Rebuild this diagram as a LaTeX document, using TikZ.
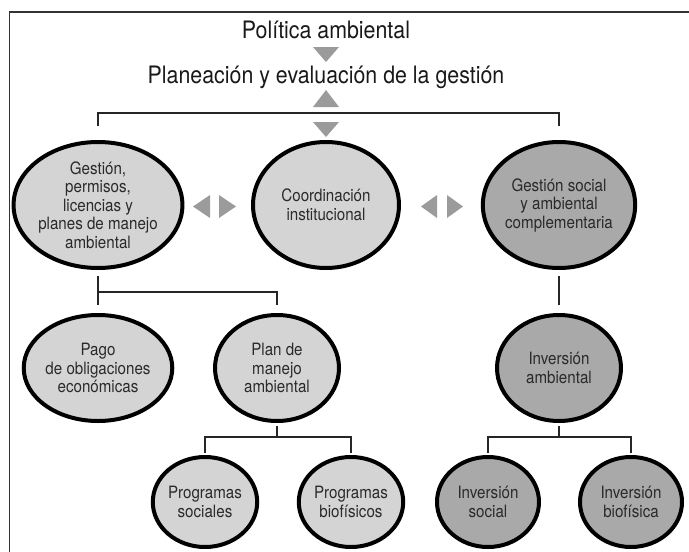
\documentclass[tikz,border=0pt]{standalone}
\usepackage{fontspec}
\setmainfont{TeX Gyre Heros}[FakeStretch=0.89]
\usetikzlibrary{shapes.geometric}
\definecolor{lightfill}{HTML}{D4D4D4}
\definecolor{darkfill}{HTML}{A9A9A9}
\definecolor{trigray}{HTML}{9B9B9B}
\definecolor{txtgray}{HTML}{2A2A2A}

\begin{document}
\begin{tikzpicture}[x=1pt,y=-1pt,
  bubble/.style={ellipse,draw=black,line width=4pt,inner sep=0pt,align=center,
    text=txtgray,font=\fontsize{17}{18.5}\selectfont},
  rowone/.style={bubble,minimum width=146pt,minimum height=126pt},
  rowtwo/.style={bubble,minimum width=124pt,minimum height=106pt},
  rowthree/.style={bubble,minimum width=102pt,minimum height=90pt},
  lightbub/.style={fill=lightfill},
  darkbub/.style={fill=darkfill},
  joint/.style={draw=black!85,line width=1.3pt},
  heading/.style={font=\fontsize{24}{28}\selectfont,text=black!90,anchor=base,inner sep=0pt}]
  \useasboundingbox (0,0) rectangle (689,552);
  %%%%%%%%%%%%%The frame%%%%%%%%%%%%%%%%%%%%%%
  \draw[line width=1.6pt,black!80] (9.5,552) -- (9.5,12) -- (689,12);

  %%%%%%%%%%%%%Top titles%%%%%%%%%%%%%%%%%%%%%%
  \node[heading] (pol) at (326,38) {Política ambiental};
  \node[heading] (plan) at (326,83) {Planeación y evaluación de la gestión};
  \fill[trigray] (313,47) -- (339,47) -- (326,62) -- cycle;
  \fill[trigray] (313,107) -- (339,107) -- (326,90) -- cycle;
  \fill[trigray] (313,122) -- (339,122) -- (326,137) -- cycle;

  %%%%%%%%%%%%%First row%%%%%%%%%%%%%%%%%%%%%%
  \node[rowone,lightbub] (gpl) at (98,205) {Gestión,\\permisos,\\licencias y\\planes de manejo\\ambiental};
  \node[rowone,lightbub] (coord) at (326,205) {Coordinación\\institucional};
  \node[rowone,darkbub] (gsac) at (559,205) {Gestión social\\y ambiental\\complementaria};
  \coordinate (bl) at (98,113);
  \draw[joint] ([yshift=14pt]gpl.north) -- (gpl.north |- bl) -- (gsac.north |- bl) -- ([yshift=14pt]gsac.north);
  \fill[trigray] (210,195) -- (210,218) -- (193,206.5) -- cycle;
  \fill[trigray] (219,195) -- (219,218) -- (236,206.5) -- cycle;
  \fill[trigray] (437,195) -- (437,218) -- (421,206.5) -- cycle;
  \fill[trigray] (447,195) -- (447,218) -- (463,206.5) -- cycle;

  %%%%%%%%%%%%%Second row%%%%%%%%%%%%%%%%%%%%%%
  \node[rowtwo,lightbub] (pago) at (98,368) {Pago\\de obligaciones\\económicas};
  \node[rowtwo,lightbub] (pma) at (277,368) {Plan de\\manejo\\ambiental};
  \node[rowtwo,darkbub] (inva) at (559,368) {Inversión\\ambiental};
  \coordinate (lsplit) at (98,292);
  \draw[joint] ([yshift=-6pt]gpl.south) -- ([yshift=8pt]pago.north);
  \draw[joint] (lsplit) -| ([yshift=8pt]pma.north);
  \draw[joint] ([yshift=-6pt]gsac.south) -- ([yshift=8pt]inva.north);

  %%%%%%%%%%%%%Third row%%%%%%%%%%%%%%%%%%%%%%
  \node[rowthree,lightbub] (psoc) at (205,502) {Programas\\sociales};
  \node[rowthree,lightbub] (pbio) at (351,502) {Programas\\biofísicos};
  \node[rowthree,darkbub] (isoc) at (488,502) {Inversión\\social};
  \node[rowthree,darkbub] (ibio) at (631,502) {Inversión\\biofísica};
  \coordinate (msplit) at (277,437);
  \coordinate (rsplit) at (559,437);
  \draw[joint] ([yshift=-3pt]pma.south) -- (msplit);
  \draw[joint] ([yshift=2pt]psoc.north) |- (msplit) -| ([yshift=2pt]pbio.north);
  \draw[joint] ([yshift=-3pt]inva.south) -- (rsplit);
  \draw[joint] ([yshift=2pt]isoc.north) |- (rsplit) -| ([yshift=2pt]ibio.north);
\end{tikzpicture}
\end{document}
